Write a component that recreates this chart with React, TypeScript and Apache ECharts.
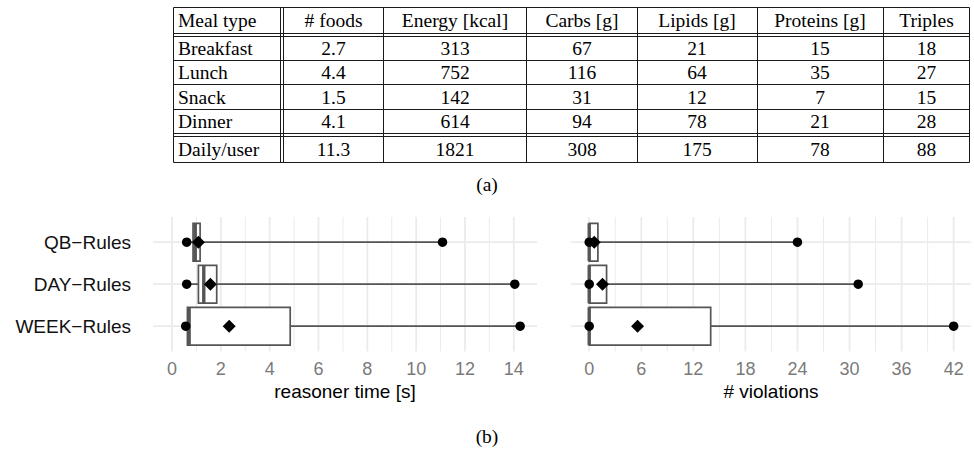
import React, { useEffect, useRef } from "react";
import * as echarts from "echarts";

// ---------- Table data ----------
const tableHeader = ["Meal type", "# foods", "Energy [kcal]", "Carbs [g]", "Lipids [g]", "Proteins [g]", "Triples"];
const mealTypes = ["Breakfast", "Lunch", "Snack", "Dinner"];
const foods = ["2.7", "4.4", "1.5", "4.1"];
const energy = [313, 752, 142, 614];
const carbs = [67, 116, 31, 94];
const lipids = [21, 64, 12, 78];
const proteins = [15, 35, 7, 21];
const triples = [18, 27, 15, 28];
const dailyRow = ["Daily/user", "11.3", "1821", "308", "175", "78", "88"];

// ---------- Boxplot data ----------
const rules = ["QB−Rules", "DAY−Rules", "WEEK−Rules"];

const timeMin = [0.6, 0.6, 0.56];
const timeQ1 = [0.86, 1.08, 0.63];
const timeMedian = [0.95, 1.3, 0.7];
const timeQ3 = [1.15, 1.83, 4.84];
const timeMax = [11.08, 14.04, 14.26];
const timeMean = [1.08, 1.57, 2.34];

const violMin = [0, 0, 0];
const violQ1 = [0, 0, 0];
const violMedian = [0, 0, 0];
const violQ3 = [1, 2, 14];
const violMax = [24, 31, 42];
const violMean = [0.58, 1.53, 5.57];

const timeTicks = [0, 2, 4, 6, 8, 10, 12, 14];
const timeMinorTicks = [1, 3, 5, 7, 9, 11, 13];
const violTicks = [0, 6, 12, 18, 24, 30, 36, 42];
const violMinorTicks = [3, 9, 15, 21, 27, 33, 39];

// ---------- Layout / style constants ----------
const SANS = "Liberation Sans";
const SERIF = "Liberation Serif";
const BOX_COLOR = "#555555";
const GRID_COLOR = "#ebebeb";
const TABLE_COLOR = "#1a1a1a";
const tableCols = [173.5, 280.5, 283.5, 383.5, 526.5, 637.5, 757.5, 883.5, 969.5];
const tableRows = [7.5, 33.5, 36.5, 60.5, 84.5, 109.5, 133.5, 136.5, 162.5];
const colCenters = [178, 333.5, 455, 582, 697, 820, 926.5];
const rowCenters = [20.5, 48.5, 72.5, 97, 121.5, 149.5];

function gridSeries(idx: number, major: number[], minor: number[]) {
  const data = [
    ...major.map((v) => [v, 0]),
    ...minor.map((v) => [v, 1]),
    ...rules.map((_, i) => [i, 2]),
  ];
  return {
    type: "custom",
    xAxisIndex: idx,
    yAxisIndex: idx,
    z: 0,
    silent: true,
    clip: false,
    encode: { x: 0, y: 1 },
    data,
    renderItem: (params: any, api: any) => {
      const cs = params.coordSys;
      const v = api.value(0);
      const kind = api.value(1);
      if (kind === 2) {
        const y = api.coord([0, v])[1];
        return {
          type: "line",
          shape: { x1: cs.x, y1: y, x2: cs.x + cs.width, y2: y },
          style: { stroke: GRID_COLOR, lineWidth: 1.8 },
        };
      }
      const x = api.coord([v, 0])[0];
      return {
        type: "line",
        shape: { x1: x, y1: cs.y, x2: x, y2: cs.y + cs.height },
        style: { stroke: GRID_COLOR, lineWidth: kind === 0 ? 1.8 : 1 },
      };
    },
  };
}

function boxSeries(idx: number, mins: number[], q1s: number[], meds: number[], q3s: number[], maxs: number[]) {
  return {
    type: "custom",
    xAxisIndex: idx,
    yAxisIndex: idx,
    z: 2,
    silent: true,
    clip: false,
    encode: { y: 0, x: [1, 2, 3, 4, 5] },
    data: rules.map((_, i) => [i, mins[i], q1s[i], meds[i], q3s[i], maxs[i]]),
    renderItem: (params: any, api: any) => {
      const i = api.value(0);
      const pLo = api.coord([api.value(1), i]);
      const pQ1 = api.coord([api.value(2), i]);
      const pMed = api.coord([api.value(3), i]);
      const pQ3 = api.coord([api.value(4), i]);
      const pHi = api.coord([api.value(5), i]);
      const h = api.size([0, 0.9])[1];
      const y = pLo[1];
      return {
        type: "group",
        children: [
          {
            type: "line",
            shape: { x1: pLo[0], y1: y, x2: pHi[0], y2: y },
            style: { stroke: BOX_COLOR, lineWidth: 1.7 },
          },
          {
            type: "rect",
            shape: { x: pQ1[0], y: y - h / 2, width: pQ3[0] - pQ1[0], height: h },
            style: { fill: "#ffffff", stroke: BOX_COLOR, lineWidth: 1.7 },
          },
          {
            type: "line",
            shape: { x1: pMed[0], y1: y - h / 2, x2: pMed[0], y2: y + h / 2 },
            style: { stroke: BOX_COLOR, lineWidth: 3.4 },
          },
        ],
      };
    },
  };
}

function dotSeries(idx: number, mins: number[], maxs: number[]) {
  return {
    type: "scatter",
    xAxisIndex: idx,
    yAxisIndex: idx,
    z: 3,
    silent: true,
    symbol: "circle",
    symbolSize: 9.5,
    itemStyle: { color: "#000000", opacity: 1 },
    data: rules.flatMap((_, i) => [[mins[i], i], [maxs[i], i]]),
  };
}

function meanSeries(idx: number, means: number[]) {
  return {
    type: "scatter",
    xAxisIndex: idx,
    yAxisIndex: idx,
    z: 4,
    silent: true,
    symbol: "diamond",
    symbolSize: 13,
    itemStyle: { color: "#000000", opacity: 1 },
    data: rules.map((_, i) => [means[i], i]),
  };
}

function xAxisDef(idx: number, min: number, max: number, ticks: number[], name: string) {
  return {
    type: "value",
    gridIndex: idx,
    min,
    max,
    axisLine: { show: false },
    axisTick: { show: false },
    splitLine: { show: false },
    axisLabel: {
      customValues: ticks,
      color: "#7a7a7a",
      fontSize: 18,
      fontFamily: SANS,
      margin: 9,
    },
    name,
    nameLocation: "middle",
    nameGap: 31,
    nameTextStyle: { color: "#000000", fontSize: 19, fontFamily: SANS },
  };
}

function yAxisDef(idx: number, showLabels: boolean) {
  return {
    type: "value",
    gridIndex: idx,
    min: -0.6,
    max: 2.6,
    inverse: true,
    axisLine: { show: false },
    axisTick: { show: false },
    splitLine: { show: false },
    axisLabel: {
      show: showLabels,
      customValues: [0, 1, 2],
      formatter: (v: number) => rules[Math.round(v)] ?? "",
      color: "#111111",
      fontSize: 19,
      fontFamily: SANS,
      margin: 22,
    },
  };
}

function buildTableGraphics() {
  const els: any[] = [];
  const top = tableRows[0];
  const bottom = tableRows[tableRows.length - 1];
  const left = tableCols[0];
  const right = tableCols[tableCols.length - 1];
  tableRows.forEach((y) => {
    els.push({
      type: "line",
      silent: true,
      shape: { x1: left, y1: y, x2: right, y2: y },
      style: { stroke: TABLE_COLOR, lineWidth: 1 },
    });
  });
  tableCols.forEach((x) => {
    els.push({
      type: "line",
      silent: true,
      shape: { x1: x, y1: top, x2: x, y2: bottom },
      style: { stroke: TABLE_COLOR, lineWidth: 1 },
    });
  });
  const rows: string[][] = [
    tableHeader,
    ...mealTypes.map((m, i) => [
      m,
      foods[i],
      String(energy[i]),
      String(carbs[i]),
      String(lipids[i]),
      String(proteins[i]),
      String(triples[i]),
    ]),
    dailyRow,
  ];
  rows.forEach((row, r) => {
    row.forEach((txt, c) => {
      els.push({
        type: "text",
        silent: true,
        x: colCenters[c],
        y: rowCenters[r],
        style: {
          text: txt,
          fill: "#000000",
          fontSize: 19.5,
          fontFamily: SERIF,
          align: c === 0 ? "left" : "center",
          verticalAlign: "middle",
        },
      });
    });
  });
  els.push({
    type: "text",
    silent: true,
    x: 487,
    y: 184,
    style: { text: "(a)", fill: "#000", fontSize: 19.5, fontFamily: SERIF, align: "center", verticalAlign: "middle" },
  });
  els.push({
    type: "text",
    silent: true,
    x: 487,
    y: 436,
    style: { text: "(b)", fill: "#000", fontSize: 19.5, fontFamily: SERIF, align: "center", verticalAlign: "middle" },
  });
  return els;
}

export default function App() {
  const ref = useRef<HTMLDivElement>(null);

  useEffect(() => {
    document.body.style.margin = "0";
    if (!ref.current) return;
    const chart = echarts.init(ref.current, undefined, { renderer: "svg" });
    chart.setOption({
      animation: false,
      backgroundColor: "#ffffff",
      textStyle: { fontFamily: SANS },
      grid: [
        { left: 153, top: 217, width: 384, height: 134.4 },
        { left: 571, top: 217, width: 400, height: 134.4 },
      ],
      xAxis: [
        xAxisDef(0, -0.78, 14.95, timeTicks, "reasoner time [s]"),
        xAxisDef(1, -2.1, 44.0, violTicks, "# violations"),
      ],
      yAxis: [yAxisDef(0, true), yAxisDef(1, false)],
      graphic: buildTableGraphics(),
      series: [
        gridSeries(0, timeTicks, timeMinorTicks),
        boxSeries(0, timeMin, timeQ1, timeMedian, timeQ3, timeMax),
        dotSeries(0, timeMin, timeMax),
        meanSeries(0, timeMean),
        gridSeries(1, violTicks, violMinorTicks),
        boxSeries(1, violMin, violQ1, violMedian, violQ3, violMax),
        dotSeries(1, violMin, violMax),
        meanSeries(1, violMean),
      ],
    });
    return () => {
      chart.dispose();
    };
  }, []);

  return <div ref={ref} style={{ width: 974, height: 458 }} />;
}
